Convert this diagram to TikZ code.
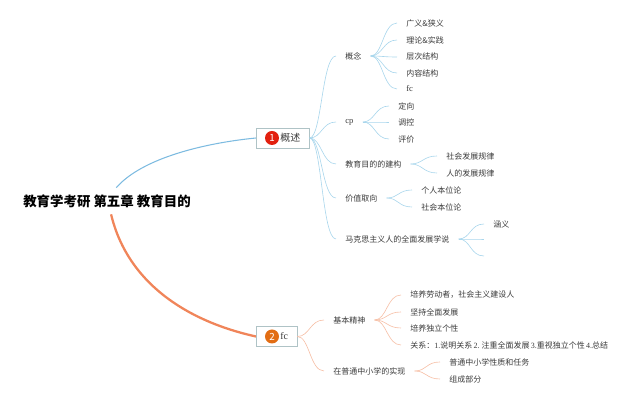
\documentclass[tikz,border=0pt]{standalone}
\usepackage{fontspec}
\usepackage{xcolor}
\setmainfont{Liberation Serif}
\newfontfamily\cjk{Noto Sans CJK SC}
\definecolor{bmain}{HTML}{7DBBE0}
\definecolor{bthin}{HTML}{A9D6EC}
\definecolor{omain}{HTML}{F0855A}
\definecolor{othin}{HTML}{F6BFA6}
\definecolor{txt}{HTML}{3A3A3A}
\definecolor{boxl}{HTML}{AFC3C6}
\definecolor{bred}{HTML}{E2200F}
\definecolor{bora}{HTML}{E26D14}
\tikzset{
    leaf/.style={rectangle, anchor=west, inner xsep=0.18cm, inner ysep=0.04cm, text=txt, font=\cjk\fontsize{4.55}{5.5}\selectfont},
    topbox/.style={rectangle, draw=boxl, fill=white, anchor=west, inner xsep=0.18cm, inner ysep=0cm, minimum height=0.4cm, text=txt, font=\cjk\fontsize{5.67}{6.5}\selectfont},
    badge/.style={circle, inner sep=0pt, minimum size=0.28cm, text=white, font=\cjk\fontsize{5.6}{6}\selectfont},
    bline/.style={bthin, line width=0.35pt, to path={.. controls +(12,0) and +(-14,0) .. (\tikztotarget)}},
    oline/.style={othin, line width=0.35pt, to path={.. controls +(12,0) and +(-14,0) .. (\tikztotarget)}}
}
\begin{document}
\begin{tikzpicture}[x=0.02cm, y=-0.02cm]
    \useasboundingbox (0,0) rectangle (640,401);

    \node (t)[rectangle, inner sep=0pt, minimum height=0.52cm, font=\cjk\bfseries\fontsize{7.65}{9}\selectfont, text=black] at (107,201) {教育学考研 第五章 教育目的};

    \draw[bmain, line width=0.6pt] (t.55) .. controls (142,158) and (205,143) .. (256,138);
    \draw[omain, line width=1.3pt] (t.287) .. controls (128,285) and (190,322) .. (256,336.5);

    \node (g1)[topbox] at (256,138) {\hspace*{0.3cm}概述};
    \node (g2)[topbox] at (256,336.5) {\hspace*{0.3cm}{\rmfamily fc}};
    \node (n1)[badge, fill=bred] at (272,138) {1};
    \node (n2)[badge, fill=bora] at (272,336.5) {2};

    \node (a)[leaf] at (336,56) {概念};
    \node (b)[leaf, font=\rmfamily\fontsize{4.9}{5.5}\selectfont] at (336,122) {cp};
    \node (c)[leaf] at (336,164) {教育目的的建构};
    \node (d)[leaf] at (336,198) {价值取向};
    \node (e)[leaf] at (336,239) {马克思主义人的全面发展学说};

    \node (a1)[leaf] at (397,23) {广义\&狭义};
    \node (a2)[leaf] at (397,40) {理论\&实践};
    \node (a3)[leaf] at (397,57) {层次结构};
    \node (a4)[leaf] at (397,73) {内容结构};
    \node (a5)[leaf, font=\rmfamily\fontsize{4.9}{5.5}\selectfont] at (397,89) {fc};

    \node (b1)[leaf] at (389,106) {定向};
    \node (b2)[leaf] at (389,122) {调控};
    \node (b3)[leaf] at (389,139) {评价};

    \node (c1)[leaf] at (437,156) {社会发展规律};
    \node (c2)[leaf] at (437,173) {人的发展规律};

    \node (d1)[leaf] at (412,190) {个人本位论};
    \node (d2)[leaf] at (412,207) {社会本位论};

    \node (e1)[leaf] at (484,224) {涵义};
    \coordinate (e2) at (484,239);
    \coordinate (e3) at (484,256);

    \node (f)[leaf] at (324,320) {基本精神};
    \node (h)[leaf] at (324,371) {在普通中小学的实现};

    \node (f1)[leaf] at (401,295) {培养劳动者，社会主义建设人};
    \node (f2)[leaf] at (401,312) {坚持全面发展};
    \node (f3)[leaf] at (401,328) {培养独立个性};
    \node (f4)[leaf] at (401,345) {关系：{\rmfamily 1.}说明关系{\rmfamily\,2.\ }注重全面发展{\rmfamily\,3.}重视独立个性{\rmfamily\,4.}总结};

    \node (h1)[leaf] at (440,362) {普通中小学性质和任务};
    \node (h2)[leaf] at (440,379) {组成部分};

    \draw[bline] (g1.east) to (a.west);
    \draw[bline] (g1.east) to (b.west);
    \draw[bline] (g1.east) to (c.west);
    \draw[bline] (g1.east) to (d.west);
    \draw[bline] (g1.east) to (e.west);
    \draw[bline] (a.east) to (a1.west);
    \draw[bline] (a.east) to (a2.west);
    \draw[bline] (a.east) to (a3.west);
    \draw[bline] (a.east) to (a4.west);
    \draw[bline] (a.east) to (a5.west);
    \draw[bline] (b.east) to (b1.west);
    \draw[bline] (b.east) to (b2.west);
    \draw[bline] (b.east) to (b3.west);
    \draw[bline] (c.east) to (c1.west);
    \draw[bline] (c.east) to (c2.west);
    \draw[bline] (d.east) to (d1.west);
    \draw[bline] (d.east) to (d2.west);
    \draw[bline] (e.east) to (e1.west);
    \draw[bline] (e.east) to (e2);
    \draw[bline] (e.east) to (e3);

    \draw[oline] (g2.east) to (f.west);
    \draw[oline] (g2.east) to (h.west);
    \draw[oline] (f.east) to (f1.west);
    \draw[oline] (f.east) to (f2.west);
    \draw[oline] (f.east) to (f3.west);
    \draw[oline] (f.east) to (f4.west);
    \draw[oline] (h.east) to (h1.west);
    \draw[oline] (h.east) to (h2.west);
\end{tikzpicture}
\end{document}
